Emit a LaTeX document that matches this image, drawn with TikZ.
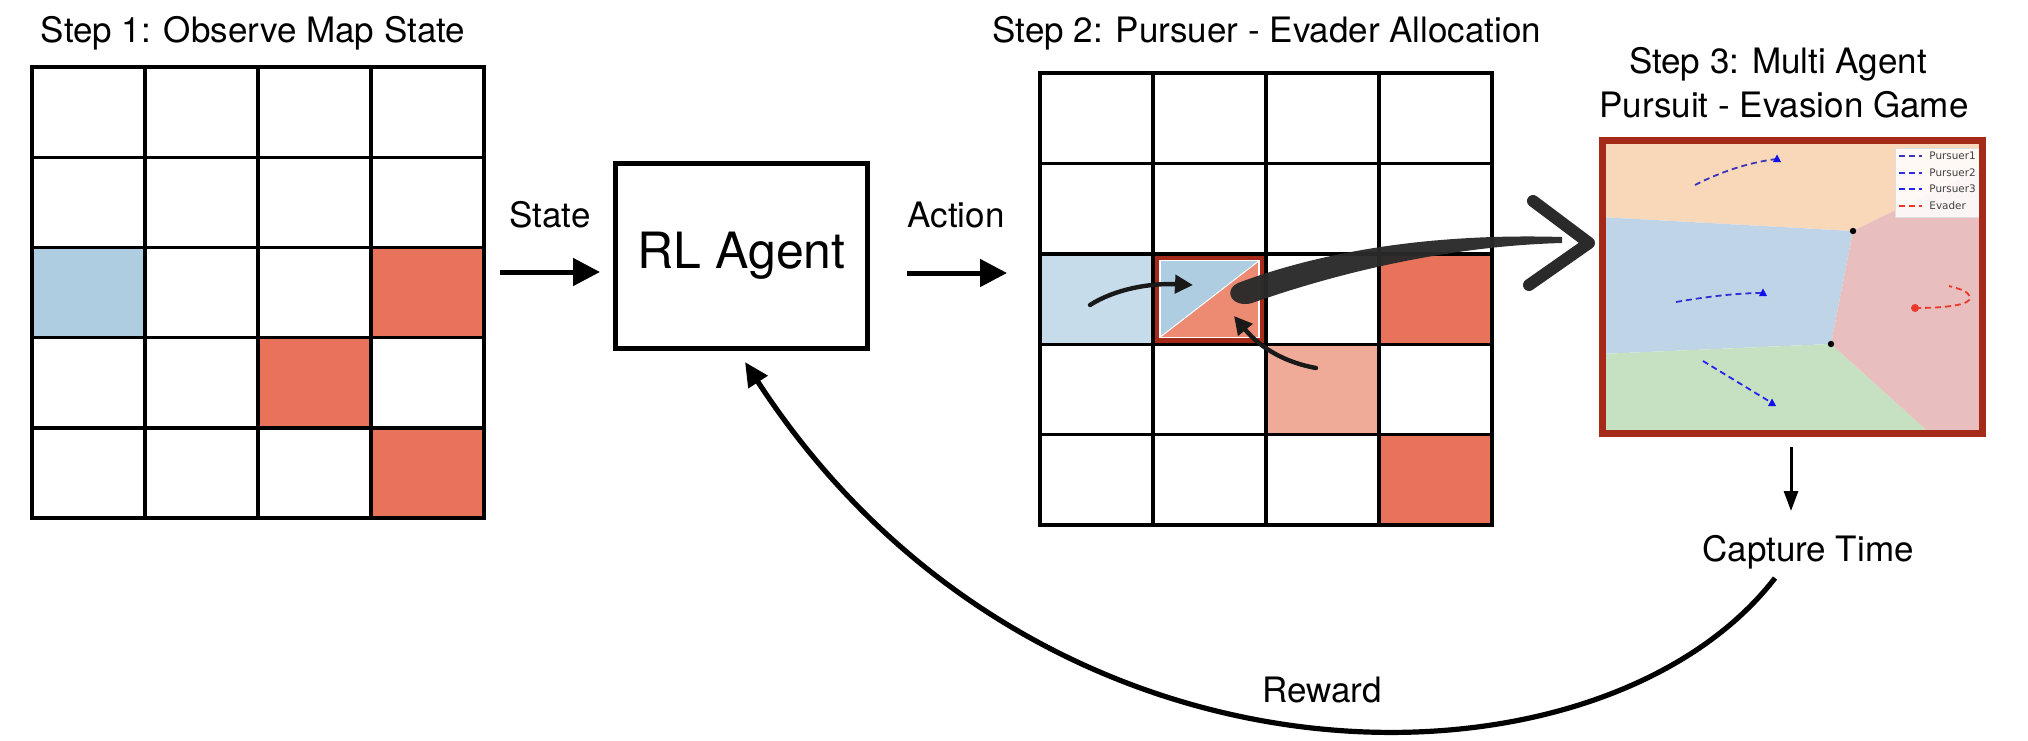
\documentclass[tikz,border=0pt]{standalone}
\usepackage{fontspec}
\setmainfont{TeX Gyre Heros}
\newfontfamily\legfont{DejaVu Sans}
\usetikzlibrary{arrows.meta}
\definecolor{cellblue}{HTML}{AFCDE1}
\definecolor{cellred}{HTML}{E8735A}
\definecolor{lightblue}{HTML}{C6DCEB}
\definecolor{lightsalmon}{HTML}{F0AA98}
\definecolor{salmon}{HTML}{EC8A72}
\definecolor{darkred}{HTML}{A52A1A}
\definecolor{regorange}{HTML}{F9D8B9}
\definecolor{regblue}{HTML}{BFD4E6}
\definecolor{reggreen}{HTML}{C5E1C2}
\definecolor{regpink}{HTML}{E9BEBE}
\definecolor{strokegray}{HTML}{2A2A2A}
\definecolor{pone}{HTML}{3B35B8}
\definecolor{ptwo}{HTML}{2E2EE0}
\definecolor{pthree}{HTML}{2323F2}
\definecolor{evcol}{HTML}{E8392A}
\definecolor{markblue}{HTML}{1010F0}
\newcommand{\trimarker}[1]{\fill[markblue] #1 ++(0,-4.5) -- ++(4,7.5) -- ++(-8,0) -- cycle;}
\tikzset{
  gridline/.style={line width=1.7pt, black},
  titletext/.style={font=\fontsize{17.5}{21}\selectfont, inner sep=0pt, anchor=base},
  flowarrow/.style={line width=2.5pt, -{Triangle[length=13.5pt,width=13.5pt]}},
  handarrow/.style={line width=2.2pt, line cap=round, black!90, -{Triangle[length=9pt,width=9pt]}},
  capturearrow/.style={line width=1.5pt, -{Triangle[length=10pt,width=7pt]}},
  rewardarrow/.style={line width=2.6pt, -{Triangle[length=12pt,width=11pt]}},
  traj/.style={line width=0.9pt, dash pattern=on 3pt off 2pt},
  legtext/.style={font=\legfont\fontsize{5.2}{6}\selectfont, text=black!75, inner sep=0pt, anchor=west}
}
\begin{document}
\begin{tikzpicture}[x=0.5pt,y=-0.5pt]
\useasboundingbox (0,0) rectangle (2028,740);

% ---------- Titles ----------
\node[titletext] (t1) at (253,42) {Step 1: Observe Map State};
\node[titletext] (t2) at (1267,42) {Step 2: Pursuer - Evader Allocation};
\node[titletext] (t3a) at (1778,73) {Step 3: Multi Agent};
\node[titletext] (t3b) at (1784,117) {Pursuit - Evasion Game};

% ---------- Grid 1 ----------
\begin{scope}[xshift=16pt, yshift=-33.5pt, x=56.5pt, y=-45.1pt]
  \fill[cellblue] (0,2) rectangle (1,3);
  \fill[cellred] (3,2) rectangle (4,3);
  \fill[cellred] (2,3) rectangle (3,4);
  \fill[cellred] (3,4) rectangle (4,5);
  \foreach \i in {1,2,3} \draw[gridline] (\i,0) -- (\i,5);
  \foreach \j in {1,2,3,4} \draw[gridline] (0,\j) -- (4,\j);
  \draw[gridline] (0,0) rectangle (4,5);
  \node[inner sep=0pt, minimum width=226pt, minimum height=225.5pt] (g1) at (2,2.5) {};
\end{scope}

% ---------- Grid 2 ----------
\begin{scope}[xshift=520pt, yshift=-36.5pt, x=56.5pt, y=-45.2pt]
  \fill[lightblue] (0,2) rectangle (1,3);
  \fill[darkred] (1,2) rectangle (2,3);
  \fill[cellblue] (1.062,2.077) -- (1.938,2.077) -- (1.062,2.923) -- cycle;
  \fill[salmon] (1.938,2.077) -- (1.938,2.923) -- (1.062,2.923) -- cycle;
  \draw[white, line width=0.6pt] (1.062,2.077) rectangle (1.938,2.923);
  \draw[white, line width=0.5pt] (1.062,2.923) -- (1.938,2.077);
  \fill[cellred] (3,2) rectangle (4,3);
  \fill[lightsalmon] (2,3) rectangle (3,4);
  \fill[cellred] (3,4) rectangle (4,5);
  \foreach \i in {1,2,3} \draw[gridline] (\i,0) -- (\i,5);
  \foreach \j in {1,2,3,4} \draw[gridline] (0,\j) -- (4,\j);
  \draw[gridline] (0,0) rectangle (4,5);
  \node[inner sep=0pt, minimum width=226pt, minimum height=226pt] (g2) at (2,2.5) {};
\end{scope}

% hand-drawn small arrows in grid 2
\coordinate (a1s) at (1090,305);
\coordinate (a1e) at (1193,285);
\draw[handarrow] (a1s) .. controls (1115,289) and (1150,283) .. (a1e);
\coordinate (a2s) at (1316,368);
\coordinate (a2e) at (1234,316);
\draw[handarrow] (a2s) .. controls (1288,363) and (1262,350) .. (a2e);

% big brush stroke to step 3
\fill[strokegray, opacity=0.97] (1244,304) .. controls (1228,303) and (1226,288) .. (1238,283)
  .. controls (1320,252) and (1430,233) .. (1562,237)
  -- (1562,243)
  .. controls (1450,246) and (1340,272) .. (1252,303)
  .. controls (1249,304) and (1247,304) .. (1244,304) -- cycle;
\draw[strokegray, line width=6pt, line join=round, line cap=round] (1533,201) -- (1589,243) -- (1529,285);

% ---------- RL agent ----------
\node[draw, line width=2.5pt, minimum width=126pt, minimum height=92.5pt, inner sep=0pt,
      font=\fontsize{25}{30}\selectfont] (rl) at (741.5,256) {\raisebox{-3.6pt}{RL Agent}};

\node[titletext] (state) at (550,227) {State};
\coordinate (stS) at (500,272);
\draw[flowarrow, shorten >=6.5pt] (stS) -- (stS -| rl.west);
\node[titletext] (action) at (956,227) {Action};
\coordinate (acS) at (907,273);
\coordinate (acE) at (1007,273);
\draw[flowarrow] (acS) -- (acE);

% ---------- Step 3 panel ----------
\begin{scope}
  \clip (1604,142) rectangle (1981,432);
  \coordinate (vA) at (1853,231);
  \coordinate (vB) at (1831,344);
  \fill[regorange] (1600,140) -- (1985,140) -- (1985,166) -- (vA) -- (1600,217) -- cycle;
  \fill[regblue] (1600,217) -- (vA) -- (vB) -- (1600,354) -- cycle;
  \fill[reggreen] (1600,354) -- (vB) -- (1933,436) -- (1600,436) -- cycle;
  \fill[regpink] (vA) -- (1985,166) -- (1985,436) -- (1933,436) -- (vB) -- cycle;
  \fill[black] (vA) circle (3.2);
  \fill[black] (vB) circle (3.2);
  % trajectories
  \draw[traj, pone] (1695,185) .. controls (1720,172) and (1750,162) .. (1777,159);
  \trimarker{(1777,159)}
  \draw[traj, ptwo!70!pone] (1676,302) .. controls (1710,296) and (1740,293) .. (1763,293);
  \trimarker{(1763,293)}
  \draw[traj, pthree] (1703,361) -- (1772,403);
  \trimarker{(1772,403)}
  \draw[traj, evcol] (1915,308) .. controls (1945,308) and (1972,305) .. (1970,297)
        .. controls (1968,291) and (1960,289) .. (1949,286);
  \fill[evcol] (1915,308) circle (4);
  % legend
  \fill[white, opacity=0.85] (1895,148) rectangle (1981,217);
  \draw[black!12, line width=0.3pt] (1895,148) rectangle (1981,217);
  \draw[traj, pone] (1899,156) -- (1922,156);
  \node[legtext] (l1) at (1929,156) {Pursuer1};
  \draw[traj, ptwo] (1899,173) -- (1922,173);
  \node[legtext] (l2) at (1929,173) {Pursuer2};
  \draw[traj, pthree] (1899,189) -- (1922,189);
  \node[legtext] (l3) at (1929,189) {Pursuer3};
  \draw[traj, evcol] (1899,206) -- (1922,206);
  \node[legtext] (l4) at (1929,206) {Evader};
\end{scope}
\node[draw=darkred, line width=3.5pt, minimum width=190pt, minimum height=146.5pt, inner sep=0pt] (panel) at (1792.5,287) {};

% ---------- Capture time and reward ----------
\coordinate (capS) at (1791,447);
\coordinate (capE) at (1791,511);
\draw[capturearrow] (capS) -- (capE);
\node[titletext] (cap) at (1808,561) {Capture Time};
\coordinate (rwS) at (1775,578);
\coordinate (rwE) at (745,362);
\draw[rewardarrow] (rwS) .. controls (1600,805) and (1040,815) .. (rwE);
\node[titletext] (reward) at (1322,702) {Reward};
\end{tikzpicture}
\end{document}
